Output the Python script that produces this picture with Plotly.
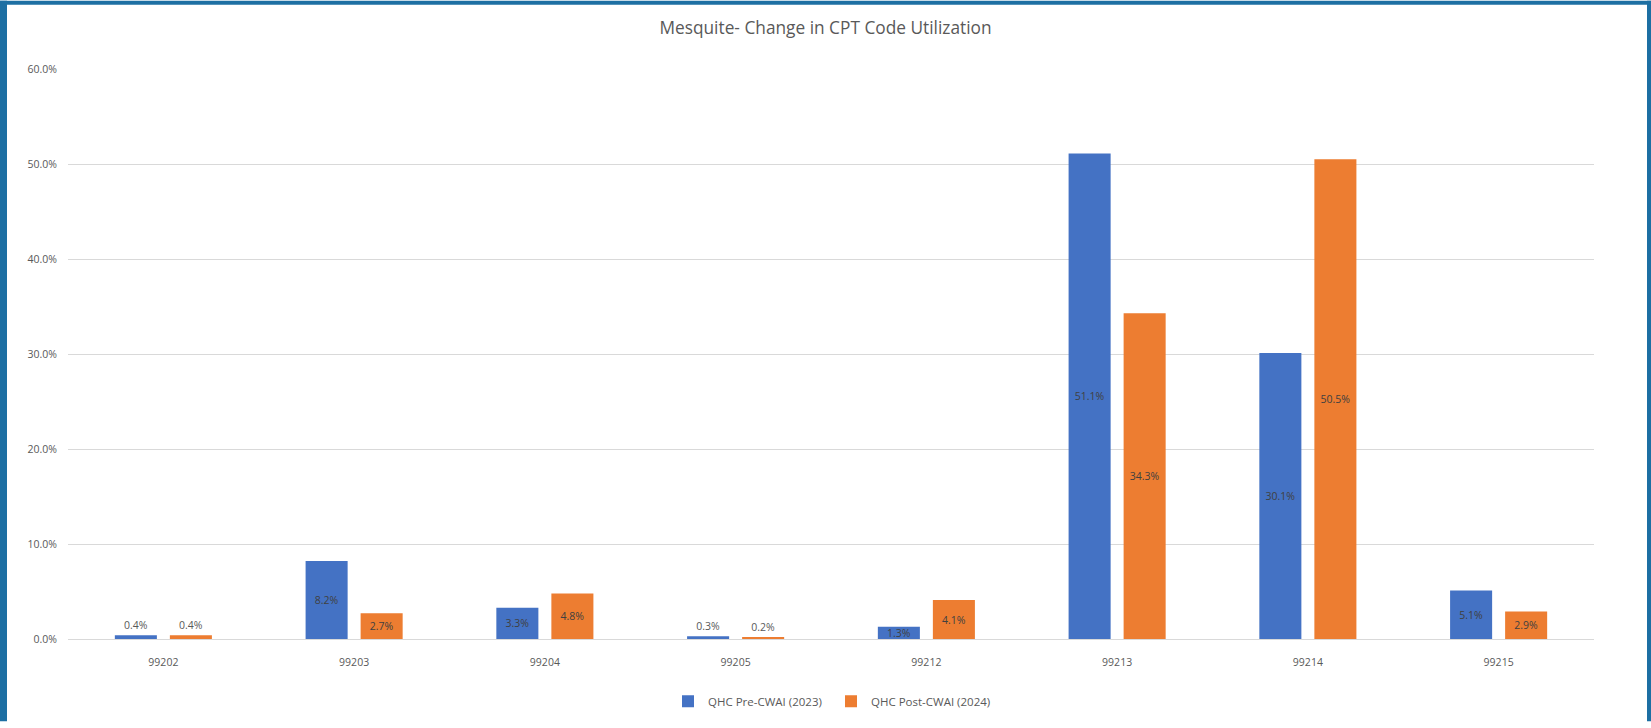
import plotly.graph_objects as go

categories = ["99202", "99203", "99204", "99205", "99212", "99213", "99214", "99215"]
pre_2023 = [0.4, 8.2, 3.3, 0.3, 1.3, 51.1, 30.1, 5.1]
post_2024 = [0.4, 2.7, 4.8, 0.2, 4.1, 34.3, 50.5, 2.9]
series_names = ["QHC Pre-CWAI (2023)", "QHC Post-CWAI (2024)"]
y_ticks = [0, 10, 20, 30, 40, 50, 60]

FONT = "Open Sans"
W, H = 1651, 728
L, R, T, B = 68, 57, 69, 83
PW, PH = W - L - R, H - T - B

def px_x(X):
    return (X - L) / PW

def px_y(Y):
    return (H - B - Y) / PH

fig = go.Figure()
for name, vals, color in [(series_names[0], pre_2023, "#4472C4"),
                          (series_names[1], post_2024, "#ED7D31")]:
    fig.add_trace(go.Bar(
        x=categories, y=vals, name=name,
        marker=dict(color=color, line=dict(width=0)),
        text=[f"{v:.1f}%" for v in vals],
        textposition=["outside" if v < 1 else "inside" for v in vals],
        insidetextanchor="middle",
        textangle=0,
        constraintext="none",
        cliponaxis=False,
        textfont=dict(family=FONT, size=10.5, color="#404040"),
        outsidetextfont=dict(family=FONT, size=10.5, color="#595959"),
        hoverinfo="skip",
    ))

# blue frame around the chart
border = "#1D6FA3"
for x0, x1, y0, y1 in [(0, 7, 0, H), (W - 4, W, 0, H), (0, W, 0, 4)]:
    fig.add_shape(type="rect", xref="paper", yref="paper",
                  x0=px_x(x0), x1=px_x(x1), y0=px_y(y1), y1=px_y(y0),
                  fillcolor=border, line=dict(width=0), layer="above")

fig.update_layout(
    width=W, height=H,
    margin=dict(l=L, r=R, t=T, b=B, pad=0),
    paper_bgcolor="white", plot_bgcolor="white",
    barmode="group", bargap=0.423, bargroupgap=0.236,
    uniformtext=dict(minsize=10.5, mode="show"),
    title=dict(text="Mesquite- Change in CPT Code Utilization",
               x=0.5, xanchor="center", y=1 - 28 / H, yanchor="middle",
               font=dict(family=FONT, size=17.3, color="#595959")),
    legend=dict(orientation="h", x=0.5, xanchor="center",
                y=px_y(708), yanchor="middle",
                font=dict(family=FONT, size=11.5, color="#595959"),
                itemwidth=30, traceorder="normal",
                entrywidth=118, entrywidthmode="pixels"),
    showlegend=True,
)
fig.update_xaxes(
    type="category", showgrid=False, showline=True, linecolor="#D9D9D9",
    linewidth=1, ticks="", ticklabelstandoff=13,
    tickfont=dict(family=FONT, size=10.5, color="#595959"),
)
fig.update_yaxes(
    range=[0, 60], tickvals=y_ticks, ticktext=[f"{v:.1f}%" for v in y_ticks],
    showgrid=True, gridcolor="#D9D9D9", gridwidth=1, zeroline=False,
    showline=False, ticks="", ticklabelstandoff=10,
    tickfont=dict(family=FONT, size=10.5, color="#595959"),
)

fig.write_html("out.html")
